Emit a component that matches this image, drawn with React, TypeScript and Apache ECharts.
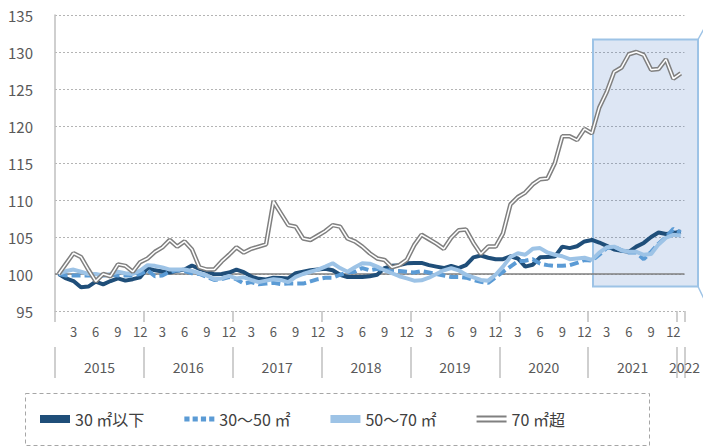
import React, { useEffect, useRef } from 'react';
import * as echarts from 'echarts';

const YEARS = ['2015', '2016', '2017', '2018', '2019', '2020', '2021', '2022'];
const MONTH_LABELS = ['3', '6', '9', '12'];
const Y_MIN = 95;
const Y_MAX = 135;
const Y_STEP = 5;

const CATEGORIES: string[] = [];
YEARS.forEach((y, yi) => {
  const n = yi === YEARS.length - 1 ? 1 : 12;
  for (let m = 1; m <= n; m++) CATEGORIES.push(`${y}-${m}`);
});

const NAMES = ['30 ㎡以下', '30〜50 ㎡', '50〜70 ㎡', '70 ㎡超'];

const S_UNDER30 = [
  100.0, 99.4, 99.05, 98.2, 98.3, 98.96, 98.6, 99.05, 99.4, 99.1, 99.3, 99.55,
  100.8, 100.5, 100.35, 100.2, 100.45, 100.6, 101.15, 100.7, 100.4, 99.95, 100.0, 100.2,
  100.6, 100.25, 99.65, 99.35, 99.25, 99.5, 99.45, 99.4, 100.1, 100.3, 100.5, 100.6,
  100.7, 100.5, 99.9, 99.6, 99.6, 99.6, 99.7, 99.9, 100.8, 101.1, 101.2, 101.45,
  101.5, 101.5, 101.2, 101.0, 100.8, 101.1, 100.8, 101.2, 102.25, 102.5, 102.2, 102.0,
  102.0, 102.4, 102.1, 101.0, 101.25, 102.25, 102.3, 102.35, 103.7, 103.5, 103.75, 104.4,
  104.6, 104.25, 103.8, 103.3, 103.15, 103.0, 103.7, 104.2, 105.0, 105.6, 105.4, 105.5,
  105.75,
];

const S_30_50 = [
  100.0, 99.8, 99.8, 99.8, 99.8, 99.8, 99.8, 99.9, 99.8, 99.8, 99.8, 100.0,
  100.5, 99.7, 99.8, 100.3, 100.5, 100.4, 100.1, 100.0, 99.6, 99.2, 99.3, 99.6,
  99.3, 98.7, 98.9, 98.6, 98.7, 98.8, 98.65, 98.7, 98.7, 98.7, 99.0, 99.3,
  99.5, 99.5, 99.9, 100.2, 100.3, 100.8, 100.5, 100.7, 100.5, 100.45, 100.4, 100.3,
  100.2, 100.4, 100.2, 100.0, 99.8, 99.6, 99.6, 99.5, 99.2, 98.95, 98.8, 99.55,
  100.3, 101.0, 101.7, 101.8, 102.0, 101.4, 101.2, 101.1, 101.1, 101.2, 101.5, 101.9,
  101.8, 102.6, 103.5, 103.7, 103.2, 102.9, 102.9, 102.0, 103.0, 104.1, 105.0, 106.1,
  105.6,
];

const S_50_70 = [
  100.0, 100.4, 100.6, 100.3, 100.0, 100.0, 99.8, 100.0, 100.3, 100.1, 100.0, 100.45,
  101.2, 101.1, 100.9, 100.6, 100.6, 100.6, 100.4, 100.1, 99.8, 99.3, 99.4, 99.75,
  99.4, 99.55, 99.2, 98.9, 99.1, 99.3, 99.2, 98.9, 99.6, 100.0, 100.3, 100.6,
  101.0, 101.45, 100.8, 100.3, 100.9, 101.45, 101.4, 101.0, 100.5, 100.1, 99.7, 99.4,
  99.1, 99.15, 99.5, 100.0, 100.5, 100.8, 100.5, 99.9, 99.55, 99.2, 99.1, 99.9,
  101.0, 102.3, 102.8, 102.6, 103.4, 103.5, 102.9, 102.6, 102.4, 102.0, 102.1, 102.2,
  101.9, 102.9, 103.6, 103.7, 103.2, 103.0, 103.0, 102.6, 102.7, 104.0, 104.9, 105.3,
  105.2,
];

const S_OVER70 = [
  100.0, 101.4, 102.8, 102.3, 100.6, 99.0, 100.0, 99.7, 101.3, 101.1, 100.3, 101.6,
  102.1, 103.0, 103.6, 104.6, 103.7, 104.4, 103.3, 100.9, 100.6, 100.6, 101.7, 102.6,
  103.6, 102.9, 103.4, 103.7, 104.0, 109.8, 108.2, 106.6, 106.4, 104.8, 104.6, 105.2,
  105.8, 106.6, 106.4, 104.8, 104.4, 103.7, 102.8, 102.1, 101.9, 100.9, 101.2, 101.9,
  103.9, 105.3, 104.7, 104.1, 103.4, 104.9, 105.9, 106.0, 104.2, 102.7, 103.7, 103.7,
  105.5, 109.4, 110.4, 111.0, 112.1, 112.8, 112.9, 115.0, 118.6, 118.6, 118.1, 119.6,
  119.0, 122.5, 124.6, 127.3, 127.9, 129.7, 130.0, 129.6, 127.6, 127.7, 129.0, 126.4,
  127.1,
];

const FONT = "'Noto Sans CJK JP', 'Noto Sans', sans-serif";
const N = CATEGORIES.length;
const LEGEND_TEXT_WIDTHS = [75, 87, 85, 60];

export default function App() {
  const ref = useRef<HTMLDivElement>(null);
  useEffect(() => {
    if (!ref.current) return;
    const chart = echarts.init(ref.current, undefined, { renderer: 'svg' });
    const hiddenValueAxis = (extra: any) => ({
      type: 'value',
      position: 'bottom',
      min: 0,
      max: N,
      axisLine: { show: false },
      splitLine: { show: false },
      axisLabel: { show: false },
      axisTick: { show: false },
      ...extra,
    });
    const rich: any = {};
    LEGEND_TEXT_WIDTHS.forEach((w, i) => {
      rich['w' + i] = { width: w, fontSize: 16, color: '#404040', fontFamily: FONT, fontWeight: 'normal' };
    });
    const option: any = {
      animation: false,
      backgroundColor: '#ffffff',
      textStyle: { fontFamily: FONT },
      grid: { left: 55, right: 10.5, top: 15, bottom: 136, containLabel: false },
      legend: {
        left: 25,
        top: 394,
        padding: [17, 40, 17, 15],
        itemWidth: 30,
        itemHeight: 8,
        itemGap: 40,
        formatter: (name: string) => `{w${NAMES.indexOf(name)}|${name}}`,
        textStyle: { fontSize: 16, color: '#404040', fontWeight: 'normal', fontFamily: FONT, rich },
        itemStyle: { borderWidth: 0 },
        data: [
          { name: NAMES[0], icon: 'rect' },
          { name: NAMES[1], icon: 'path://M0 0H5V5H0Z M8 0H13V5H8Z M16 0H21V5H16Z M24 0H29V5H24Z' },
          { name: NAMES[2], icon: 'rect' },
          { name: NAMES[3], icon: 'path://M0 0H30V2H0Z M0 5H30V7H0Z' },
        ],
        selectedMode: false,
      },
      xAxis: [
        {
          type: 'category',
          data: CATEGORIES,
          boundaryGap: true,
          axisLine: { show: false },
          axisTick: { show: false },
          splitLine: { show: false },
          axisLabel: {
            interval: (_i: number, v: string) => MONTH_LABELS.includes(v.split('-')[1]),
            formatter: (v: string) => v.split('-')[1],
            fontSize: 13,
            color: '#595959',
            margin: 14,
            fontFamily: FONT,
          },
        },
        hiddenValueAxis({
          interval: 12,
          offset: 0,
          axisTick: { show: true, length: 11, lineStyle: { color: '#bfbfbf', width: 1.5 } },
        }),
        hiddenValueAxis({
          interval: 12,
          offset: 36,
          axisTick: { show: true, length: 31, lineStyle: { color: '#bfbfbf', width: 1.5 } },
        }),
        hiddenValueAxis({
          interval: 6,
          offset: 0,
          axisLabel: {
            show: true,
            showMaxLabel: true,
            showMinLabel: true,
            margin: 49,
            fontSize: 14,
            color: '#595959',
            fontFamily: FONT,
            formatter: (v: number) => {
              if (v === N) return YEARS[YEARS.length - 1];
              if (v % 12 === 6) return YEARS[(v - 6) / 12];
              return '';
            },
          },
        }),
      ],
      yAxis: {
        type: 'value',
        min: Y_MIN,
        max: Y_MAX,
        interval: Y_STEP,
        axisLine: { show: true, lineStyle: { color: '#bfbfbf', width: 1.5 } },
        axisTick: { show: false },
        splitLine: { show: true, lineStyle: { color: '#b4b4b4', type: [2, 2], width: 1 } },
        axisLabel: { fontSize: 15, color: '#595959', margin: 22, fontFamily: FONT },
      },
      graphic: [
        {
          type: 'rect',
          z: 1,
          shape: { x: 593, y: 39.5, width: 105, height: 247 },
          style: { fill: 'rgba(68,114,196,0.18)', stroke: '#9dc3e6', lineWidth: 2 },
        },
        {
          type: 'line',
          z: 1,
          shape: { x1: 698, y1: 39.5, x2: 705, y2: 27 },
          style: { stroke: '#9dc3e6', lineWidth: 1.5 },
        },
        {
          type: 'line',
          z: 1,
          shape: { x1: 698, y1: 286.5, x2: 705, y2: 301 },
          style: { stroke: '#9dc3e6', lineWidth: 1.5 },
        },
        {
          type: 'rect',
          z: 1,
          shape: { x: 25.5, y: 393.5, width: 624, height: 52 },
          style: { fill: 'none', stroke: '#a6a6a6', lineWidth: 1, lineDash: [4, 3] },
        },
      ],
      series: [
        {
          name: NAMES[0],
          type: 'line',
          data: S_UNDER30,
          symbol: 'none',
          color: '#1f4e79',
          itemStyle: { color: '#1f4e79' },
          lineStyle: { color: '#1f4e79', width: 4 },
          z: 3,
        },
        {
          name: NAMES[1],
          type: 'line',
          data: S_30_50,
          symbol: 'none',
          color: '#5b9bd5',
          itemStyle: { color: '#5b9bd5' },
          lineStyle: { color: '#5b9bd5', width: 4, type: [9, 4] },
          z: 4,
        },
        {
          name: NAMES[2],
          type: 'line',
          data: S_50_70,
          symbol: 'none',
          color: '#9dc3e6',
          itemStyle: { color: '#9dc3e6' },
          lineStyle: { color: '#9dc3e6', width: 4 },
          z: 5,
        },
        {
          name: NAMES[3],
          type: 'line',
          data: S_OVER70,
          symbol: 'none',
          color: '#808080',
          itemStyle: { color: '#808080' },
          lineStyle: { color: '#808080', width: 4.5 },
          z: 6,
          markLine: {
            silent: true,
            symbol: 'none',
            label: { show: false },
            lineStyle: { color: '#7f7f7f', width: 1.5, type: 'solid' },
            data: [{ yAxis: 100 }],
            z: 2,
          },
        },
        {
          name: NAMES[3] + ' inner',
          type: 'line',
          data: S_OVER70,
          symbol: 'none',
          color: '#ffffff',
          lineStyle: { color: '#ffffff', width: 1.5 },
          z: 7,
          silent: true,
        },
      ],
    };
    chart.setOption(option);
    return () => chart.dispose();
  }, []);
  return (
    <div
      ref={ref}
      style={{ position: 'absolute', left: 0, top: 0, width: 703, height: 447, background: '#fff' }}
    />
  );
}
